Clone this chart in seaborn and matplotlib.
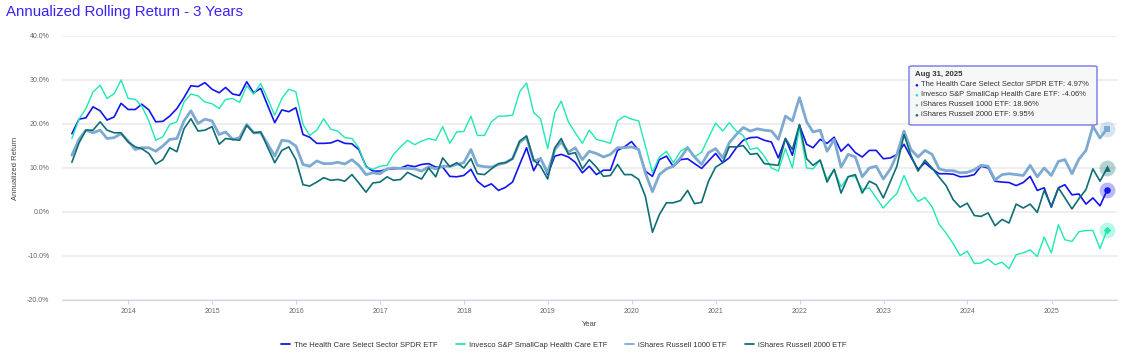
import pandas as pd
import numpy as np
import matplotlib
matplotlib.use("Agg")
import matplotlib.pyplot as plt
import matplotlib.dates as mdates
import seaborn as sns
from matplotlib.lines import Line2D
from matplotlib.patches import FancyBboxPatch

# Fim de cada mês, de abr/2013 até ago/2025
datas = pd.date_range("2013-04-30", periods=149, freq="ME")

nomes = [
    "The Health Care Select Sector SPDR ETF",
    "Invesco S&P SmallCap Health Care ETF",
    "iShares Russell 1000 ETF",
    "iShares Russell 2000 ETF",
]
cores = ["#1414f0", "#1ee8b4", "#7eaad2", "#0f6e73"]

# Retorno anualizado (rolling 3 anos), em %
xlv = [
    17.8, 21.1, 21.4, 23.9, 23.0, 20.9, 21.6, 24.7, 23.3, 23.3, 24.5, 23.2, 20.5, 20.6, 21.8, 23.5, 26.0, 28.7, 28.5, 29.4, 27.9, 27.1, 28.3, 26.8, 26.5,
    29.6, 27.1, 28.1, 24.1, 20.3, 23.2, 22.8, 23.7, 17.6, 17.0, 15.6, 15.6, 15.7, 16.3, 15.6, 15.5, 14.2, 10.4, 9.3, 9.3, 9.7, 9.8, 10.0, 10.6, 10.3,
    10.8, 11.0, 10.2, 10.2, 8.1, 8.0, 8.3, 9.7, 7.0, 5.7, 6.4, 4.9, 5.6, 6.8, 10.8, 14.6, 9.4, 12.3, 8.5, 12.7, 13.1, 12.5, 11.3, 8.9, 10.4,
    8.5, 9.5, 9.5, 14.0, 14.8, 16.0, 14.0, 9.3, 8.1, 11.9, 12.7, 10.3, 11.9, 12.1, 11.0, 9.9, 11.6, 13.3, 11.2, 12.3, 14.6, 16.3, 16.9, 17.0, 16.3,
    15.9, 12.3, 16.7, 12.9, 19.7, 15.4, 14.6, 16.5, 15.6, 17.0, 13.8, 15.4, 13.5, 12.5, 14.0, 14.0, 12.1, 12.3, 13.1, 15.4, 12.5, 9.7, 11.2, 9.8, 8.7,
    8.7, 8.6, 8.0, 8.1, 8.5, 10.4, 10.0, 7.0, 6.8, 6.7, 6.0, 6.7, 8.1, 4.9, 5.5, 1.1, 5.5, 6.2, 3.9, 4.1, 1.8, 3.2, 1.4, 4.97,
]
psch = [
    16.7, 21.1, 23.5, 27.3, 28.8, 25.8, 26.9, 30.0, 25.8, 25.6, 24.1, 20.7, 16.3, 17.1, 19.9, 20.5, 25.0, 26.8, 26.4, 25.0, 24.6, 23.5, 25.6, 25.8, 24.9,
    28.7, 26.8, 29.2, 25.6, 22.0, 25.8, 27.9, 27.3, 19.9, 17.4, 18.6, 21.2, 18.8, 18.4, 16.9, 16.7, 14.6, 10.2, 9.7, 10.4, 10.6, 13.1, 14.8, 16.3, 15.3,
    16.1, 16.7, 16.3, 19.4, 15.6, 18.2, 18.3, 21.8, 17.4, 17.4, 20.5, 21.8, 21.8, 22.0, 27.3, 29.3, 22.6, 21.2, 14.4, 22.6, 25.2, 20.5, 18.0, 15.6, 18.6,
    16.5, 16.1, 15.6, 20.7, 21.8, 21.1, 20.7, 15.0, 9.0, 12.5, 13.8, 11.2, 13.8, 14.8, 12.5, 13.6, 16.9, 20.2, 18.4, 20.3, 18.4, 17.4, 14.2, 14.6, 12.7,
    10.0, 9.3, 14.4, 10.0, 19.2, 10.0, 9.8, 11.8, 7.4, 9.7, 5.7, 8.1, 8.0, 5.1, 5.5, 3.2, 0.9, 2.8, 4.2, 8.3, 4.7, 2.4, 3.3, 1.2, -2.8,
    -4.8, -7.2, -9.9, -8.9, -11.7, -11.6, -10.7, -12.0, -11.4, -12.9, -9.7, -9.3, -8.6, -10.1, -5.7, -9.3, -2.9, -6.3, -6.7, -4.5, -4.2, -4.2, -8.3, -4.06,
]
iwb = [
    12.9, 16.5, 18.6, 18.0, 18.6, 16.7, 16.9, 17.8, 16.1, 14.2, 14.6, 14.6, 13.8, 15.0, 16.5, 16.7, 20.7, 23.0, 20.1, 21.1, 20.7, 17.6, 18.2, 16.5, 16.9,
    19.9, 18.0, 18.0, 15.4, 12.7, 16.3, 16.1, 15.0, 10.8, 10.4, 11.6, 11.0, 11.0, 11.3, 10.9, 11.9, 10.6, 8.5, 8.9, 8.7, 9.8, 10.0, 9.9, 9.9, 9.8,
    9.3, 10.3, 9.8, 10.4, 10.4, 10.8, 11.2, 14.2, 10.6, 10.3, 10.2, 10.8, 11.2, 12.1, 15.9, 17.0, 11.6, 12.1, 9.0, 14.2, 15.9, 13.6, 14.6, 11.9, 13.8,
    13.3, 12.5, 13.1, 14.6, 14.6, 14.8, 14.2, 8.9, 4.6, 8.5, 9.8, 10.4, 12.3, 14.6, 12.5, 10.8, 13.5, 14.4, 12.3, 15.7, 17.6, 19.2, 18.4, 18.9, 18.6,
    18.4, 16.5, 21.8, 20.7, 26.0, 20.5, 18.2, 18.6, 13.8, 16.5, 10.2, 13.1, 12.5, 8.0, 10.0, 10.4, 7.5, 9.8, 13.1, 18.4, 14.2, 12.5, 14.0, 13.1, 9.8,
    9.4, 9.4, 8.9, 9.0, 9.6, 10.6, 10.4, 7.3, 8.5, 8.7, 8.5, 8.3, 10.6, 8.0, 10.0, 8.3, 11.5, 11.9, 8.7, 12.0, 14.0, 19.5, 16.8, 18.96,
]
iwm = [
    11.3, 15.7, 18.6, 18.6, 20.5, 18.6, 18.0, 18.0, 15.9, 14.8, 14.4, 13.3, 10.9, 11.9, 14.6, 13.7, 18.9, 21.2, 18.4, 18.6, 19.4, 15.4, 16.7, 16.5, 16.3,
    19.7, 18.0, 18.2, 14.6, 11.2, 14.0, 14.8, 11.9, 6.2, 5.9, 6.8, 7.8, 7.2, 7.4, 7.0, 8.5, 6.6, 4.5, 6.6, 6.8, 8.0, 7.2, 7.4, 9.0, 8.2,
    7.5, 10.0, 8.0, 12.3, 10.3, 11.2, 10.0, 12.1, 8.7, 8.5, 9.8, 11.0, 11.2, 12.1, 16.1, 17.3, 11.8, 10.4, 7.5, 14.6, 16.7, 13.1, 13.5, 9.8, 11.9,
    10.2, 8.1, 8.3, 10.8, 8.5, 8.5, 7.4, 3.6, -4.6, -0.6, 2.1, 2.1, 2.6, 4.9, 1.9, 2.2, 7.0, 10.2, 11.2, 14.8, 14.8, 15.1, 13.1, 13.3, 11.0,
    10.8, 10.6, 16.7, 14.2, 19.9, 12.1, 10.6, 11.8, 6.8, 9.7, 4.3, 8.0, 8.5, 4.3, 7.0, 6.2, 3.2, 7.0, 10.4, 17.6, 12.9, 9.3, 11.8, 10.0, 7.9,
    6.0, 2.8, 1.1, 2.0, -0.8, -1.0, -0.2, -3.1, -1.7, -2.5, 1.8, 0.9, 1.8, -0.1, 4.9, 1.3, 5.5, 3.2, 0.7, 3.0, 5.1, 9.8, 7.0, 9.95,
]

series = [xlv, psch, iwb, iwm]
larguras = [1.2, 1.0, 2.0, 1.2]
marcadores = ["o", "D", "s", "^"]

# Formato longo para o seaborn
df = pd.concat(
    [pd.DataFrame({"Data": datas, "Retorno": s, "Fundo": n}) for s, n in zip(series, nomes)],
    ignore_index=True,
)

sns.set_style("white")
plt.rcParams["font.family"] = ["Liberation Sans", "DejaVu Sans"]

fig = plt.figure(figsize=(11.25, 3.53), dpi=100)
ax = fig.add_axes([62 / 1125, 53 / 353, 1055 / 1125, 264 / 353])

for n, c, lw in zip(nomes, cores, larguras):
    sns.lineplot(data=df[df["Fundo"] == n], x="Data", y="Retorno", color=c,
                 linewidth=lw, ax=ax, legend=False)

# Marcadores do último ponto (com halo)
for s, c, m in zip(series, cores, marcadores):
    ax.scatter([datas[-1]], [s[-1]], s=130, color=c, alpha=0.3, zorder=5, linewidths=0)
    ax.scatter([datas[-1]], [s[-1]], s=22 if m != "D" else 14, color=c, marker=m, zorder=6, linewidths=0)

# Eixos
ax.set_ylim(-20, 40)
ax.set_yticks(np.arange(-20, 41, 10))
ax.yaxis.set_major_formatter(matplotlib.ticker.FuncFormatter(lambda v, p: f"{v:.1f}%"))
ax.set_xlim(pd.Timestamp("2013-03-18"), pd.Timestamp("2025-10-13"))
ax.xaxis.set_major_locator(mdates.YearLocator())
ax.xaxis.set_major_formatter(mdates.DateFormatter("%Y"))
ax.grid(axis="y", color="#e9e9e9", linewidth=1.1)
ax.grid(axis="x", visible=False)
for lado in ["top", "right", "left"]:
    ax.spines[lado].set_visible(False)
ax.spines["bottom"].set_color("#ccd6eb")
ax.spines["bottom"].set_zorder(0)
ax.tick_params(axis="y", length=0, pad=9, labelsize=5, labelcolor="#666666")
ax.tick_params(axis="x", length=3, color="#ccd6eb", pad=3, labelsize=5, labelcolor="#666666", bottom=True)
ax.set_xlabel("Year", fontsize=5.5, color="#444444", labelpad=4)
ax.set_ylabel("Annualized Return", fontsize=5.5, color="#444444", labelpad=6)

# Título
fig.text(6 / 1125, 1 - 12 / 353, "Annualized Rolling Return - 3 Years", fontsize=10.8,
         color="#3b23f5", va="center", ha="left")

# Legenda
handles = [Line2D([0], [0], color=c, lw=1.3) for c in cores]
fig.legend(handles, nomes, loc="center", bbox_to_anchor=(0.501, 1 - 345 / 353), ncol=4,
           frameon=False, fontsize=5.5, handlelength=1.2, handletextpad=0.5, columnspacing=2.4,
           labelcolor="#333333")

# Caixa de tooltip
caixa = FancyBboxPatch((909 / 1125, 1 - 125 / 353), 188 / 1125, 59 / 353,
                       boxstyle="round,pad=0,rounding_size=0.003", transform=fig.transFigure,
                       facecolor="#f7f7f7", edgecolor="#7a78e8", linewidth=1.1, alpha=0.92, zorder=10)
fig.patches.append(caixa)
fig.text(915 / 1125, 1 - 74 / 353, "Aug 31, 2025", fontsize=5.6, fontweight="bold",
         color="#333333", va="center", zorder=11)
finais = [f"{n}: {s[-1]:.2f}%" for n, s in zip(nomes, series)]
for k, (txt, c) in enumerate(zip(finais, cores)):
    yy = 1 - (85 + 10 * k) / 353
    fig.text(916.5 / 1125, yy, "●", fontsize=4.5, color=c, va="center", ha="center", zorder=11)
    fig.text(921 / 1125, yy, txt, fontsize=5.45, color="#333333", va="center", zorder=11)

plt.savefig("out.png", dpi=100)
